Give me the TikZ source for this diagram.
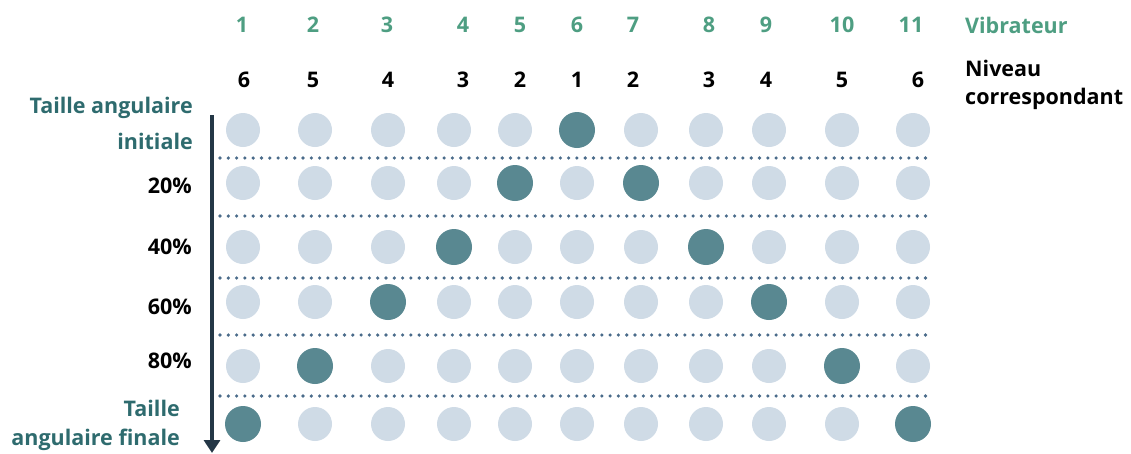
\documentclass[tikz,border=0pt]{standalone}
\usepackage{fontspec}
\setmainfont{Open Sans}
\usetikzlibrary{arrows.meta}
\definecolor{tealtxt}{HTML}{2E6B6E}
\definecolor{greentxt}{HTML}{4E9E82}
\definecolor{lightc}{HTML}{CFDBE6}
\definecolor{darkc}{HTML}{598891}
\definecolor{dotc}{HTML}{4A6B8A}
\definecolor{arrowc}{HTML}{243746}
\begin{document}
\begin{tikzpicture}[x=1pt,y=-1pt,
  lab/.style={font=\fontsize{21.5}{26}\selectfont\bfseries, inner sep=0pt},
  hdr/.style={lab, text=greentxt},
  lvl/.style={lab, text=black},
  pct/.style={lab, text=black, anchor=east},
  side/.style={lab, text=tealtxt, anchor=east},
  dotl/.style={dotc, line width=3.6pt, line cap=round, dash pattern=on 0pt off 8.3pt},
  lc/.style={circle, fill=lightc, minimum size=34pt, inner sep=0pt},
  dc/.style={circle, fill=darkc, minimum size=36pt, inner sep=0pt}]
\useasboundingbox (0,0) rectangle (1131,453);
% header numbers
\foreach \n/\x in {1/242,2/313,3/387,4/463,5/520,6/577,7/633,8/709,9/766,10/842,11/911}
  \node[hdr] (h\n) at (\x,25) {\n};
\node[hdr, anchor=west] (vib) at (965,25) {Vibrateur};
% level numbers
\foreach \n/\x/\v in {1/244/6,2/313/5,3/388/4,4/463/3,5/520/2,6/577/1,7/633/2,8/709/3,9/766/4,10/842/5,11/918/6}
  \node[lvl] (l\n) at (\x,80) {\v};
\node[lvl, anchor=west] (niv1) at (965,68) {Niveau};
\node[lvl, anchor=west] (niv2) at (965,99) {correspondant};
% circles
\foreach \r/\y in {0/130,1/183,2/247,3/302,4/366,5/424}{
  \foreach \c/\x in {1/243,2/315,3/388,4/454,5/515,6/577,7/641,8/706,9/769,10/842,11/913}{
    \pgfmathtruncatemacro{\lo}{6-\r}
    \pgfmathtruncatemacro{\hi}{6+\r}
    \ifnum\c=\lo
      \node[dc] (c\r-\c) at (\x,\y) {};
    \else\ifnum\c=\hi
      \node[dc] (c\r-\c) at (\x,\y) {};
    \else
      \node[lc] (c\r-\c) at (\x,\y) {};
    \fi\fi
  }
}
% dotted separators
\foreach \i/\y in {1/158,2/216,3/278,4/335,5/396}{
  \coordinate (sa\i) at (220,\y);
  \coordinate (sb\i) at (932,\y);
  \draw[dotl] (sa\i) -- (sb\i);
}
% arrow
\coordinate (at) at (212,115);
\coordinate (ab) at (212,453);
\draw[arrowc, line width=3.6pt, -{Triangle[length=13pt,width=16pt]}] (at) -- (ab);
% left labels
\node[side] (ti1) at (193,108) {Taille angulaire};
\node[side] (ti2) at (193,141) {initiale};
\node[pct] (p20) at (192,186) {20\%};
\node[pct] (p40) at (192,247) {40\%};
\node[pct] (p60) at (192,307) {60\%};
\node[pct] (p80) at (192,361) {80\%};
\node[side] (tf1) at (180,408) {Taille};
\node[side] (tf2) at (180,440) {angulaire finale};
\end{tikzpicture}
\end{document}
